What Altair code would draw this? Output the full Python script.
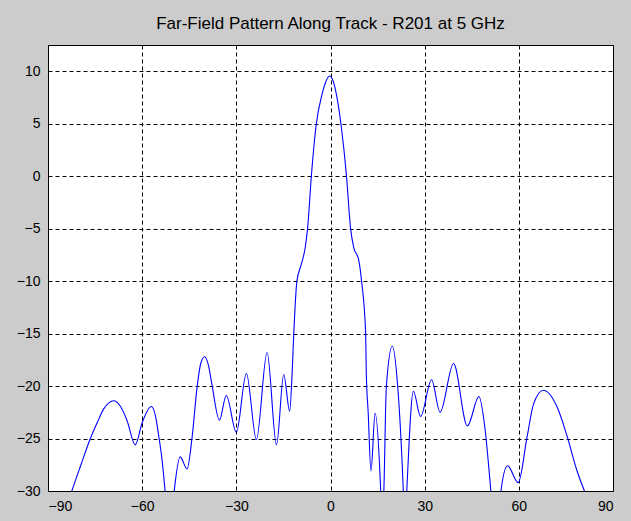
import altair as alt
import pandas as pd

TITLE = "Far-Field Pattern Along Track - R201 at 5 GHz"

ANGLE_DEG = [
    -84.0, -82.4, -79.5, -76.5, -74.2, -72.3, -70.6, -69.1, -67.0, -64.8,
    -62.2, -60.0, -57.1, -55.8, -54.8, -53.6, -52.7, -51.3, -49.8, -47.9,
    -45.7, -44.1, -42.5, -41.3, -40.1, -38.9, -37.8, -35.4, -33.2, -30.0,
    -26.8, -23.6, -20.2, -17.2, -14.9, -13.0, -12.2, -11.7, -10.7, -9.4,
    -8.0, -7.3, -6.1, -4.6, -2.7, -1.5, -0.3, 0.8, 2.0,
    3.4, 5.1, 6.4, 7.4, 9.0, 9.9, 11.2, 11.4, 12.0, 12.9,
    14.2, 16.0, 16.5, 17.0, 17.8, 19.7, 21.4, 23.2, 23.7, 24.3,
    26.4, 28.7, 32.2, 34.9, 39.2, 43.6, 47.3, 49.2, 51.1, 52.7,
    54.3, 56.4, 59.8, 62.6, 64.7, 67.8, 72.2, 75.3, 78.5, 80.9,
    83.0,
]

GAIN_DB = [
    -31.5, -30.0, -27.5, -25.0, -23.4, -22.2, -21.6, -21.4, -21.9, -23.3,
    -25.6, -23.5, -21.95, -22.8, -24.6, -27.2, -30.0, -35.0, -30.0, -26.75,
    -27.9, -24.9, -20.1, -17.8, -17.2, -18.0, -19.8, -23.25, -20.9, -24.4,
    -18.8, -25.1, -16.8, -25.6, -18.9, -22.4, -18.6, -15.0, -10.0, -8.5,
    -6.7, -5.0, 0.0, 4.8, 7.8, 9.0, 9.55, 9.1, 7.6,
    4.8, 0.0, -5.0, -6.8, -8.0, -10.0, -15.0, -18.7, -22.5, -28.1,
    -22.6, -30.0, -34.0, -30.0, -20.0, -16.2, -20.0, -30.0, -34.0, -30.0,
    -20.5, -22.9, -19.4, -22.5, -17.85, -23.8, -21.0, -24.0, -30.0, -35.0,
    -30.0, -27.6, -29.2, -24.9, -21.7, -20.4, -22.0, -24.7, -28.05, -30.0,
    -31.5,
]

X_TICKS = [-90, -60, -30, 0, 30, 60, 90]
Y_TICKS = [-30, -25, -20, -15, -10, -5, 0, 5, 10]

df = pd.DataFrame({"angle": ANGLE_DEG, "gain": GAIN_DB})

FONT = "Liberation Sans"

axis_common = dict(
    title=None,
    format="d",
    grid=True,
    gridColor="black",
    gridDash=[4, 3],
    gridWidth=1,
    gridOpacity=1,
    ticks=False,
    domain=False,
    labelFont=FONT,
    labelFontSize=14,
    labelColor="black",
    labelPadding=8,
)

chart = (
    alt.Chart(df)
    .mark_line(color="#0000ff", strokeWidth=1.1, interpolate="monotone", clip=True)
    .encode(
        x=alt.X(
            "angle:Q",
            scale=alt.Scale(domain=[-90, 90], nice=False, zero=False),
            axis=alt.Axis(values=X_TICKS, **axis_common),
        ),
        y=alt.Y(
            "gain:Q",
            scale=alt.Scale(domain=[-30, 12.5], nice=False, zero=False),
            axis=alt.Axis(values=Y_TICKS, **axis_common),
        ),
    )
    .properties(
        width=565,
        height=446,
        title=alt.TitleParams(
            TITLE,
            font=FONT,
            fontSize=17,
            fontWeight="normal",
            color="black",
            anchor="middle",
            offset=12,
        ),
        padding={"left": 48, "top": 45, "right": 18, "bottom": 30},
        autosize="none",
        background="#cccccc",
    )
    .configure_view(stroke="black", strokeWidth=1, fill="white")
)

chart.save("out.html", embed_options={"renderer": "svg", "actions": False})
